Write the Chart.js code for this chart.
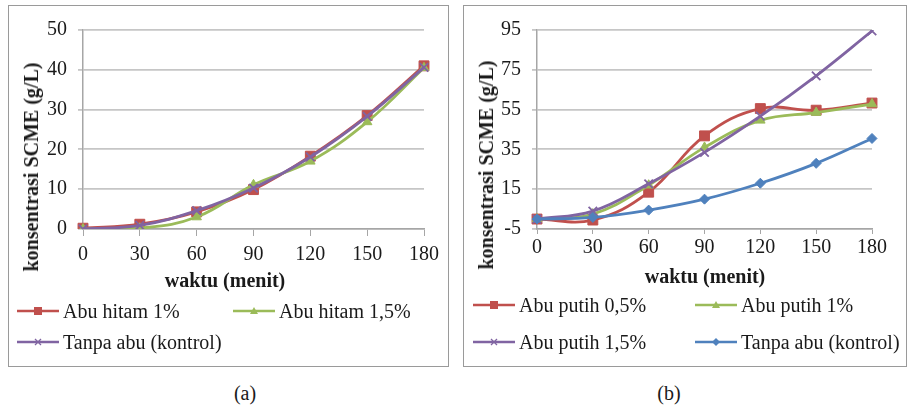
<!DOCTYPE html>
<html>
<head>
<meta charset="utf-8">
<script src="https://cdn.jsdelivr.net/npm/chart.js@4.4.1/dist/chart.umd.min.js"></script>
<style>
    body { margin: 0; background: #fff; font-family: "Liberation Serif", "Times New Roman", serif; color: #1a1a1a; }
    .panel { position: absolute; top: 5px; height: 362px; border: 1px solid #9a9a9a; box-sizing: border-box; }
    #panelA { left: 8px; width: 441px; }
    #panelB { left: 463px; width: 444px; }
    canvas { position: absolute; }
    .axis-title { position: absolute; font-weight: bold; font-size: 20px; line-height: 24px; white-space: nowrap; transform: translate(-50%, -50%); }
    .axis-title.vertical { transform: translate(-50%, -50%) rotate(-90deg); }
    .legend-item { position: absolute; display: flex; align-items: center; height: 24px; font-size: 20px; white-space: nowrap; }
    .legend-item svg { margin-right: 4px; }
    .caption { position: absolute; top: 381px; font-size: 20px; line-height: 24px; transform: translateX(-50%); }
</style>
</head>
<body>
<div class="panel" id="panelA"></div>
<div class="panel" id="panelB"></div>
<canvas id="chartA" width="438" height="287" style="left:9px;top:7px;"></canvas>
<canvas id="chartB" width="441" height="287" style="left:464px;top:7px;"></canvas>

<div class="axis-title vertical" style="left:31px;top:167px;">konsentrasi SCME (g/L)</div>
<div class="axis-title" style="left:225px;top:280px;">waktu (menit)</div>
<div class="axis-title vertical" style="left:486px;top:165px;">konsentrasi SCME (g/L)</div>
<div class="axis-title" style="left:705px;top:276px;">waktu (menit)</div>

<div id="legendA"></div>
<div id="legendB"></div>
<div class="caption" style="left:245px;">(a)</div>
<div class="caption" style="left:669px;">(b)</div>

<script>
// Data
const xLabels = ['0', '30', '60', '90', '120', '150', '180'];
const yTicksA = [0, 10, 20, 30, 40, 50];
const yTicksB = [-5, 15, 35, 55, 75, 95];

// (a) black ash
const namesA = ['Abu hitam 1%', 'Abu hitam 1,5%', 'Tanpa abu (kontrol)'];
const abuHitam1 = [0.2, 1.2, 4.3, 9.9, 18.3, 28.5, 41.0];
const abuHitam15 = [0, 0.2, 3.0, 11.1, 17.0, 26.9, 40.5];
const kontrolA = [0, 0.9, 4.6, 10.3, 18.1, 28.3, 40.6];

// (b) white ash
const namesB = ['Abu putih 0,5%', 'Abu putih 1%', 'Abu putih 1,5%', 'Tanpa abu (kontrol)'];
const abuPutih05 = [0, -0.5, 13.5, 41.8, 55.5, 54.7, 58.3];
const abuPutih1 = [0, 2.5, 17.0, 36.0, 49.6, 53.5, 57.8];
const abuPutih15 = [0, 4.0, 17.7, 33.5, 51.7, 72.0, 94.5];
const kontrolB = [0, 0.8, 4.5, 10.0, 18.0, 28.0, 40.5];

const RED = '#C0504D', GREEN = '#9BBB59', PURPLE = '#8064A2', BLUE = '#4F81BD';
const GRID = '#c6c6c6', AXIS = '#a6a6a6';

function makeDataset(label, data, color, style, radius, order) {
    return {
        label: label,
        data: data,
        borderColor: color,
        backgroundColor: color,
        borderWidth: 2.8,
        pointStyle: style,
        pointRadius: radius,
        pointBorderColor: color,
        pointBackgroundColor: color,
        pointBorderWidth: style === 'crossRot' ? 1.8 : 1,
        tension: 0.4,
        order: order
    };
}

function makeOptions(yTicks, cfg) {
    return {
        responsive: false,
        animation: false,
        layout: { padding: { left: 0, right: cfg.padRight, top: 21, bottom: 0 } },
        plugins: { legend: { display: false }, tooltip: { enabled: false } },
        scales: {
            x: {
                type: 'category',
                offset: false,
                grid: { drawOnChartArea: false, color: AXIS, tickLength: cfg.xTickLen },
                border: { color: AXIS, width: 1.5 },
                ticks: { color: '#1a1a1a', padding: cfg.xTickPad, maxRotation: 0, font: { family: 'Liberation Serif', size: 20 } },
                afterFit: s => { s.height = 65; }
            },
            y: {
                min: yTicks[0],
                max: yTicks[yTicks.length - 1],
                afterBuildTicks: s => { s.ticks = yTicks.map(v => ({ value: v })); },
                grid: { color: GRID, lineWidth: 1.8, tickLength: 5 },
                border: { color: AXIS, width: 1.5 },
                ticks: { color: '#1a1a1a', padding: 11, font: { family: 'Liberation Serif', size: 20 } },
                afterFit: s => { s.width = cfg.yWidth; }
            }
        }
    };
}

function markerSvg(color, style) {
    const cx = 21, cy = 6;
    let m = '';
    if (style === 'rect') m = `<rect x="${cx - 4}" y="${cy - 4}" width="8" height="8" fill="${color}"/>`;
    else if (style === 'triangle') m = `<polygon points="${cx},${cy - 4} ${cx + 4},${cy + 3} ${cx - 4},${cy + 3}" fill="${color}"/>`;
    else if (style === 'crossRot') m = `<path d="M${cx - 3} ${cy - 3}L${cx + 3} ${cy + 3}M${cx - 3} ${cy + 3}L${cx + 3} ${cy - 3}" stroke="${color}" stroke-width="1.3"/>`;
    else m = `<polygon points="${cx},${cy - 4} ${cx + 4},${cy} ${cx},${cy + 4} ${cx - 4},${cy}" fill="${color}"/>`;
    return `<svg width="42" height="12"><line x1="0" y1="${cy}" x2="42" y2="${cy}" stroke="${color}" stroke-width="2.5"/>${m}</svg>`;
}

function buildLegend(chart, holderId, cols, rows) {
    const holder = document.getElementById(holderId);
    chart.data.datasets.forEach((ds, i) => {
        const item = document.createElement('div');
        item.className = 'legend-item';
        item.style.left = cols[i % 2] + 'px';
        item.style.top = (rows[Math.floor(i / 2)] - 12) + 'px';
        item.innerHTML = markerSvg(ds.borderColor, ds.pointStyle) + '<span>' + ds.label + '</span>';
        holder.appendChild(item);
    });
}

const chartA = new Chart(document.getElementById('chartA'), {
    type: 'line',
    data: {
        labels: xLabels,
        datasets: [
            makeDataset(namesA[0], abuHitam1, RED, 'rect', 7, 2),
            makeDataset(namesA[1], abuHitam15, GREEN, 'triangle', 5.5, 1),
            makeDataset(namesA[2], kontrolA, PURPLE, 'crossRot', 6, 0)
        ]
    },
    options: makeOptions(yTicksA, { yWidth: 74, padRight: 23, xTickLen: 7, xTickPad: 7 })
});

const chartB = new Chart(document.getElementById('chartB'), {
    type: 'line',
    data: {
        labels: xLabels,
        datasets: [
            makeDataset(namesB[0], abuPutih05, RED, 'rect', 7, 3),
            makeDataset(namesB[1], abuPutih1, GREEN, 'triangle', 5.5, 2),
            makeDataset(namesB[2], abuPutih15, PURPLE, 'crossRot', 6, 1),
            makeDataset(namesB[3], kontrolB, BLUE, 'rectRot', 5, 0)
        ]
    },
    options: makeOptions(yTicksB, { yWidth: 73, padRight: 33, xTickLen: 5, xTickPad: 2 })
});

buildLegend(chartA, 'legendA', [17, 233], [311, 342]);
buildLegend(chartB, 'legendB', [473, 695], [305, 342]);
</script>
</body>
</html>
